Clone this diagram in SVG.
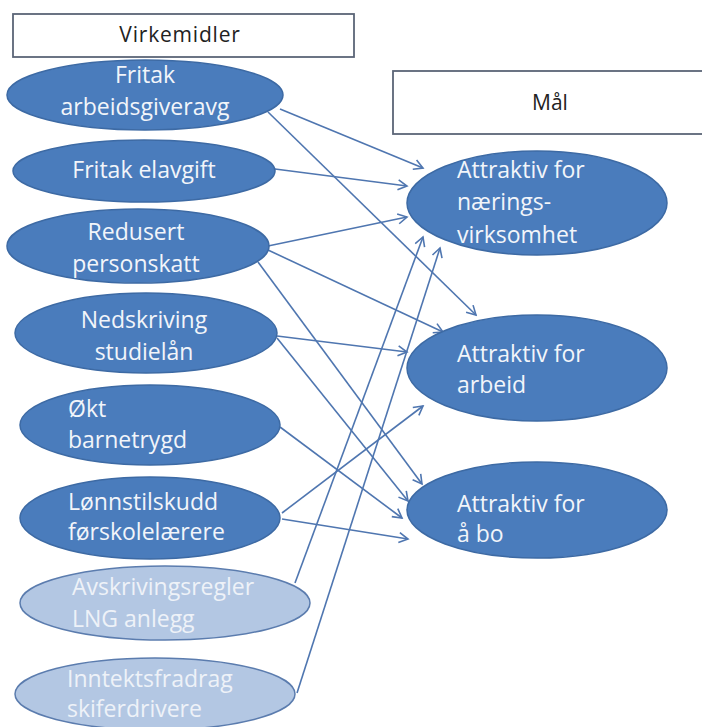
<svg xmlns="http://www.w3.org/2000/svg" width="702" height="727" viewBox="0 0 702 727">
<defs>
<marker id="ah" markerWidth="12" markerHeight="12" refX="10" refY="6" orient="auto" markerUnits="userSpaceOnUse">
<path d="M1,1 L10,6 L1,11" fill="none" stroke="#4f76b0" stroke-width="1.6"/>
</marker>
</defs>
<style>
.box{fill:#ffffff;stroke:#5b6577;stroke-width:1.8}
.dk{fill:#4a7cbc;stroke:#3d6aa4;stroke-width:1.5}
.lt{fill:#b3c7e3;stroke:#5b7cae;stroke-width:1.5}
.t{font-family:"Open Sans","DejaVu Sans",sans-serif;font-size:23px;fill:#f2f5fa}
.tl{font-family:"Open Sans","DejaVu Sans",sans-serif;font-size:23px;fill:#eef2f8}
.th{font-family:"Open Sans","DejaVu Sans",sans-serif;font-size:21px;fill:#222222}
.c{text-anchor:middle}
.cn line{stroke:#4f76b0;stroke-width:1.6;marker-end:url(#ah)}
</style>
<rect width="702" height="727" fill="#ffffff"/>
<g id="virkemidler">
<rect class="box" x="13" y="14" width="341" height="43"/>
<text class="th c" x="180" y="42" letter-spacing="0.8">Virkemidler</text>
</g>
<g id="maal">
<rect class="box" x="393" y="71" width="320" height="63"/>
<text class="th c" x="550" y="110">Mål</text>
</g>
<g id="connectors" class="cn">
<line x1="280" y1="109" x2="423" y2="168"/>
<line x1="268" y1="112" x2="476" y2="315"/>
<line x1="275" y1="169" x2="407" y2="186"/>
<line x1="268" y1="246" x2="407" y2="217"/>
<line x1="268" y1="250" x2="443" y2="332"/>
<line x1="258" y1="262" x2="422" y2="484"/>
<line x1="277" y1="336" x2="407" y2="352"/>
<line x1="277" y1="338" x2="408" y2="501"/>
<line x1="280" y1="427" x2="402" y2="518"/>
<line x1="282" y1="513" x2="423" y2="406"/>
<line x1="282" y1="519" x2="408" y2="539"/>
<line x1="295" y1="583" x2="423" y2="237"/>
<line x1="297" y1="693" x2="440" y2="248"/>
</g>
<g id="n1">
<ellipse class="dk" cx="145" cy="95" rx="138" ry="35"/>
<text class="t c" x="145" y="83">Fritak</text>
<text class="t c" x="145" y="115">arbeidsgiveravg</text>
</g>
<g id="n2">
<ellipse class="dk" cx="144" cy="171" rx="131" ry="31"/>
<text class="t c" x="144" y="178">Fritak elavgift</text>
</g>
<g id="n3">
<ellipse class="dk" cx="138" cy="246" rx="131" ry="37"/>
<text class="t c" x="136" y="240">Redusert</text>
<text class="t c" x="136" y="272">personskatt</text>
</g>
<g id="n4">
<ellipse class="dk" cx="146" cy="333" rx="131" ry="40"/>
<text class="t c" x="144" y="328">Nedskriving</text>
<text class="t c" x="144" y="360">studielån</text>
</g>
<g id="n5">
<ellipse class="dk" cx="150" cy="425" rx="130" ry="40"/>
<text class="t" x="68" y="417">Økt</text>
<text class="t" x="68" y="448">barnetrygd</text>
</g>
<g id="n6">
<ellipse class="dk" cx="150" cy="518" rx="130" ry="41"/>
<text class="t" x="68" y="510">Lønnstilskudd</text>
<text class="t" x="68" y="540">førskolelærere</text>
</g>
<g id="n7">
<ellipse class="lt" cx="165" cy="603" rx="145" ry="37"/>
<text class="tl" x="72" y="595">Avskrivingsregler</text>
<text class="tl" x="72" y="627">LNG anlegg</text>
</g>
<g id="n8">
<ellipse class="lt" cx="155" cy="694" rx="140" ry="36"/>
<text class="tl" x="67" y="687">Inntektsfradrag</text>
<text class="tl" x="67" y="717">skiferdrivere</text>
</g>
<g id="g1">
<ellipse class="dk" cx="537" cy="203" rx="130" ry="52"/>
<text class="t" x="457" y="178">Attraktiv for</text>
<text class="t" x="457" y="210">nærings-</text>
<text class="t" x="457" y="243">virksomhet</text>
</g>
<g id="g2">
<ellipse class="dk" cx="537" cy="368" rx="130" ry="53"/>
<text class="t" x="457" y="362">Attraktiv for</text>
<text class="t" x="457" y="393">arbeid</text>
</g>
<g id="g3">
<ellipse class="dk" cx="537" cy="510" rx="130" ry="48"/>
<text class="t" x="457" y="512">Attraktiv for</text>
<text class="t" x="457" y="542">å bo</text>
</g>
</svg>
